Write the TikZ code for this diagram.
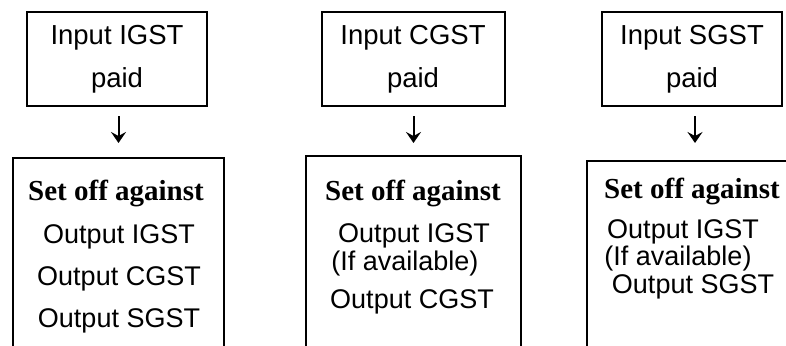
\documentclass[tikz,border=0pt]{standalone}
\usepackage{fontspec}
\setmainfont{Liberation Sans}
\newfontfamily\serifbf{Liberation Serif}
\usepackage{tikz}
\usetikzlibrary{arrows.meta, positioning, calc}

\begin{document}
\begin{tikzpicture}[x=1pt, y=-1pt, >={Stealth[length=11pt, width=15pt, inset=4pt]},
    inbox/.style={draw, line width=2pt, minimum height=94pt, align=center, inner sep=0pt, font=\fontsize{27.5}{43}\selectfont},
    outbox/.style={draw, line width=2pt, minimum height=260pt, anchor=north west, inner sep=0pt},
    headtxt/.style={anchor=base, inner sep=0pt, font=\serifbf\bfseries\fontsize{29}{29}\selectfont},
    linetxt/.style={anchor=base, inner sep=0pt, font=\fontsize{27}{27}\selectfont},
    flow/.style={->, line width=2pt}]
    \useasboundingbox (0,0) rectangle (786,345);
    \clip (0,0) rectangle (786,345);

    % Input boxes
    \node[inbox, minimum width=180pt] (inI) at (117,59) {Input IGST\\paid};
    \node[inbox, minimum width=183pt] (inC) at (413,59) {Input CGST\\paid};
    \node[inbox, minimum width=180pt] (inS) at (692,59) {Input SGST\\paid};

    % Set-off boxes (run off the bottom)
    \node[outbox, minimum width=211pt] (outI) at (12,157) {};
    \node[outbox, minimum width=215pt] (outC) at (305,155) {};
    \node[outbox, minimum width=216pt] (outS) at (586,160) {};

    % Arrows
    \draw[flow, shorten <=9pt, shorten >=14pt] (inI.south -| outI.north) -- (outI.north);
    \draw[flow, shorten <=9pt, shorten >=12pt] (inC.south -| outC.north) -- (outC.north);
    \draw[flow, shorten <=9pt, shorten >=17pt] (inS.south -| outS.north) -- (outS.north);

    % IGST column
    \node[headtxt] (hI) at (116,200) {Set off against};
    \node[linetxt] (iI) at (119,243) {Output IGST};
    \node[linetxt] (cI) at (119,285) {Output CGST};
    \node[linetxt] (sI) at (119,327) {Output SGST};

    % CGST column
    \node[headtxt] (hC) at (413,200) {Set off against};
    \node[linetxt] (iC) at (414,242) {Output IGST};
    \node[linetxt] (aC) at (405,270) {(If available)};
    \node[linetxt] (cC) at (412,308) {Output CGST};

    % SGST column
    \node[headtxt] (hS) at (692,198) {Set off against};
    \node[linetxt] (iS) at (683,238) {Output IGST};
    \node[linetxt] (aS) at (678,265) {(If available)};
    \node[linetxt] (sS) at (693,293) {Output SGST};
\end{tikzpicture}
\end{document}
